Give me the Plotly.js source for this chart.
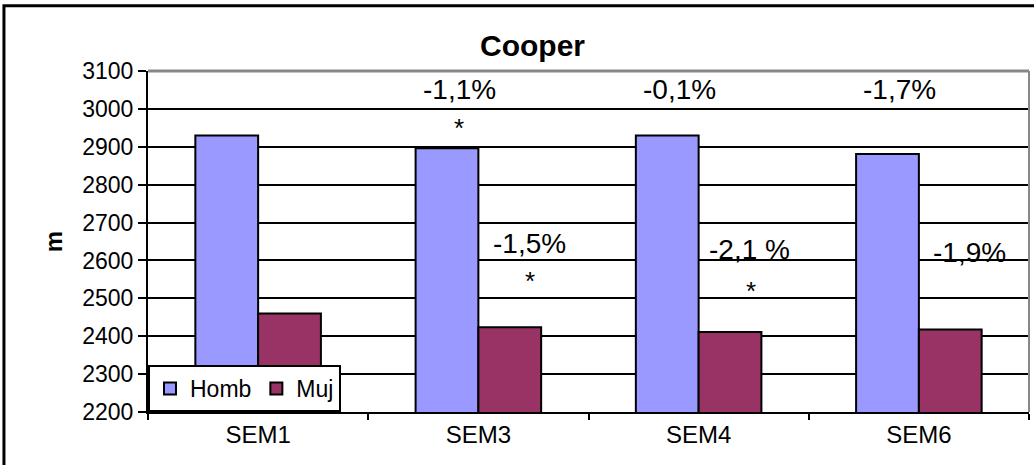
<!DOCTYPE html>
<html>
<head>
<meta charset="utf-8">
<script src="https://cdn.plot.ly/plotly-3.0.1.min.js"></script>
<style>
html,body{margin:0;padding:0;background:#fff;}
#chart{width:1034px;height:465px;}
</style>
</head>
<body>
<div id="chart"></div>
<script>
// Data
var categories = ["SEM1", "SEM3", "SEM4", "SEM6"];
var hombValues = [2930, 2896, 2930, 2881];
var mujValues  = [2460, 2424, 2411, 2418];
var yTicks = [2200, 2300, 2400, 2500, 2600, 2700, 2800, 2900, 3000, 3100];

// Percent-change labels
var hombPctText = ["-1,1%", "-0,1%", "-1,7%"];
var hombPctCat  = ["SEM3", "SEM4", "SEM6"];
var hombPctY    = [3050, 3050, 3050];
var mujPctText  = ["-1,5%", "-2,1 %", "-1,9%"];
var mujPctCat   = ["SEM3", "SEM4", "SEM6"];
var mujPctY     = [2646, 2628, 2622];
var starCat     = ["SEM3", "SEM3", "SEM4"];
var starY       = [2950, 2546, 2520];
var starSide    = ["homb", "muj", "muj"];

var FONT = "Liberation Sans, Arial, sans-serif";

var traces = [
  {
    type: "bar", name: "Homb", x: categories, y: hombValues,
    marker: {color: "#9999FF", line: {color: "#000000", width: 2}}
  },
  {
    type: "bar", name: "Muj", x: categories, y: mujValues,
    marker: {color: "#993366", line: {color: "#000000", width: 2}}
  }
];

var annotations = [];
for (var i = 0; i < hombPctText.length; i++) {
  annotations.push({x: hombPctCat[i], y: hombPctY[i], xref: "x", yref: "y",
    text: hombPctText[i], showarrow: false, xshift: -19,
    font: {family: FONT, size: 28, color: "#000"}});
}
for (var j = 0; j < mujPctText.length; j++) {
  annotations.push({x: mujPctCat[j], y: mujPctY[j], xref: "x", yref: "y",
    text: mujPctText[j], showarrow: false, xshift: 51,
    font: {family: FONT, size: 28, color: "#000"}});
}
for (var k = 0; k < starCat.length; k++) {
  annotations.push({x: starCat[k], y: starY[k], xref: "x", yref: "y",
    text: "*", showarrow: false, xshift: starSide[k] === "homb" ? -19 : 52,
    font: {family: FONT, size: 26, color: "#000"}});
}
// y-axis title
annotations.push({x: -0.107, y: 0.5, xref: "paper", yref: "paper",
  xanchor: "center", yanchor: "middle",
  text: "<b>m</b>", textangle: -90, showarrow: false,
  font: {family: FONT, size: 24, color: "#000"}});

var layout = {
  width: 1034, height: 465,
  margin: {l: 148, r: 5, t: 71, b: 53, pad: 0},
  paper_bgcolor: "#ffffff", plot_bgcolor: "#ffffff",
  font: {family: FONT, color: "#000"},
  title: {text: "<b>Cooper</b>", font: {family: FONT, size: 30, color: "#000"},
    x: 0.515, xanchor: "center", y: 0.903, yanchor: "middle", xref: "container", yref: "container"},
  barmode: "group",
  bargap: 0.43, bargroupgap: 0,
  showlegend: true,
  legend: {x: 0, y: 0, xanchor: "left", yanchor: "bottom", orientation: "h",
    bgcolor: "#ffffff", bordercolor: "#000000", borderwidth: 2,
    font: {family: FONT, size: 23, color: "#000"}, traceorder: "normal",
    itemwidth: 30, tracegroupgap: 0},
  xaxis: {
    type: "category", showline: true, linecolor: "#000", linewidth: 2,
    ticks: "outside", tickson: "boundaries", ticklen: 6, tickcolor: "#000", tickwidth: 2,
    showgrid: false, zeroline: false,
    tickfont: {family: FONT, size: 24, color: "#000"}
  },
  yaxis: {
    range: [2200, 3100], tickvals: yTicks, ticktext: yTicks.map(String),
    showline: true, linecolor: "#000", linewidth: 2,
    ticks: "outside", ticklen: 8, tickcolor: "#000", tickwidth: 2,
    showgrid: true, gridcolor: "#000", gridwidth: 2, zeroline: false,
    tickfont: {family: FONT, size: 23, color: "#000"}
  },
  annotations: annotations,
  shapes: [
    // outer frame
    {type: "rect", xref: "paper", yref: "paper", x0: -0.1635, x1: 1.2, y0: -0.5, y1: 1.191,
      line: {color: "#000", width: 3}, layer: "above"},
    // grey top and right plot edges
    {type: "line", xref: "paper", yref: "paper", x0: 0, x1: 1, y0: 1, y1: 1,
      line: {color: "#888888", width: 3}, layer: "above"},
    {type: "line", xref: "paper", yref: "paper", x0: 1, x1: 1, y0: 0, y1: 1,
      line: {color: "#888888", width: 2}, layer: "above"}
  ]
};

Plotly.newPlot("chart", traces, layout, {displayModeBar: false, staticPlot: true});
</script>
</body>
</html>
